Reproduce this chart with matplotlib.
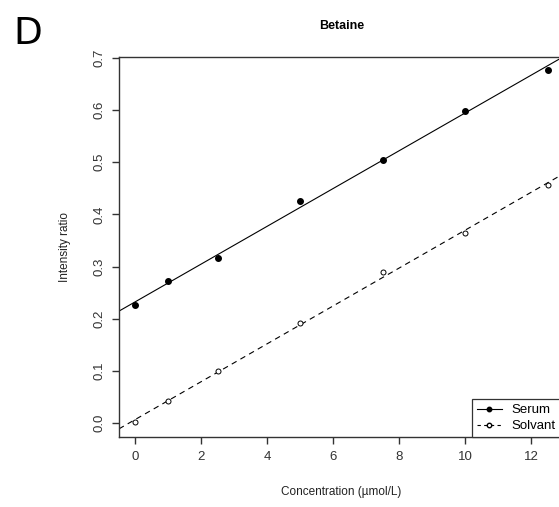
import numpy as np
import matplotlib as mpl
import matplotlib.pyplot as plt

mpl.rcParams['font.family'] = ['Liberation Sans', 'DejaVu Sans']
mpl.rcParams['font.size'] = 8.5
mpl.rcParams['axes.linewidth'] = 1.0
mpl.rcParams['xtick.major.size'] = 5
mpl.rcParams['ytick.major.size'] = 5
mpl.rcParams['xtick.major.width'] = 1.0
mpl.rcParams['ytick.major.width'] = 1.0

conc = [0, 1, 2.5, 5, 7.5, 10, 12.5]
serum = [0.226, 0.273, 0.316, 0.426, 0.505, 0.598, 0.678]
solvant = [0.001, 0.042, 0.100, 0.191, 0.290, 0.364, 0.457]

xticks = [0, 2, 4, 6, 8, 10, 12]
yticks = [0.0, 0.1, 0.2, 0.3, 0.4, 0.5, 0.6, 0.7]

W, H = 559, 507
fig = plt.figure(figsize=(W / 100, H / 100), dpi=100)
ax = fig.add_axes([119 / W, 1 - 437 / H, 445 / W, 380 / H])

# fitted lines, like abline(lm(...)) in R
b1, a1 = np.polyfit(conc, serum, 1)
b2, a2 = np.polyfit(conc, solvant, 1)
ax.axline((0, a1), slope=b1, color='black', lw=0.8)
ax.axline((0, a2), slope=b2, color='black', lw=0.8, ls=(0, (5, 4)))

ax.plot(conc, serum, 'o', color='black', ms=4.0, ls='none')
ax.plot(conc, solvant, 'o', mfc='white', mec='black', mew=0.7, ms=3.6, ls='none')

ax.set_xlim(-0.5, 13.0)
ax.set_ylim(-0.027, 0.702)
ax.set_xticks(xticks)
ax.set_yticks(yticks)
ax.set_yticklabels([f"{v:.1f}" for v in yticks], rotation=90, va='center')
ax.tick_params(colors='#333333', labelsize=9.5, pad=5)
for s in ax.spines.values():
    s.set_color('#333333')

ax.set_title("Betaine", fontweight='bold', fontsize=9, pad=20)
ax.set_xlabel("Concentration (\u00b5mol/L)", fontsize=8.5, labelpad=17, color='#222222')
ax.set_ylabel("Intensity ratio", fontsize=8.5, labelpad=16, color='#222222')

h1, = ax.plot([], [], 'o-', color='black', ms=3.2, lw=0.8)
h2, = ax.plot([], [], 'o', ls=(0, (3, 3)), color='black', mfc='white', ms=3.2, lw=0.8)
leg = ax.legend([h1, h2], ["Serum", "Solvant"], loc='lower left',
                bbox_to_anchor=(472 / W, 1 - 437 / H), bbox_transform=fig.transFigure,
                fancybox=False, framealpha=1, edgecolor='#333333', fontsize=9.5,
                handlelength=1.9, handletextpad=0.7, borderpad=0.35, labelspacing=0.3,
                borderaxespad=0)
leg.get_frame().set_linewidth(0.9)

fig.text(13 / W, 1 - 44 / H, "D", fontsize=27, family='DejaVu Sans', va='baseline')

fig.savefig("out.png", dpi=100)
